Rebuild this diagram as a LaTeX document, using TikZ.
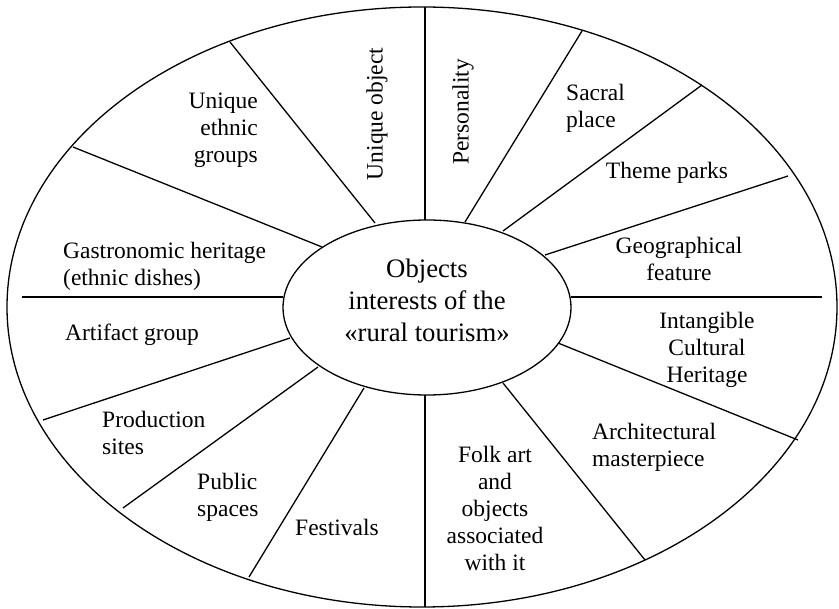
\documentclass[tikz,border=0pt]{standalone}
\usepackage{fontspec}
\setmainfont{Liberation Serif}
\usetikzlibrary{shapes.geometric}
\begin{document}
\begin{tikzpicture}[x=1pt,y=-1pt,
  lbl/.style={font=\fontsize{23.5}{27}\selectfont, inner sep=0pt},
  spoke/.style={line width=1.3pt},
  ring/.style={draw, ellipse, line width=1.3pt, inner sep=0pt}]
\useasboundingbox (0,0) rectangle (839,609);
% outer and inner ellipses
\node[ring, minimum width=830pt, minimum height=600pt] (rim) at (422,307) {};
\node[ring, minimum width=288pt, minimum height=175pt] (core) at (427,307.5) {};
\node[font=\fontsize{26.7}{32}\selectfont, align=center, inner sep=0pt] (coretext) at (427,300)
  {Objects\\interests of the\\«rural tourism»};
% spoke end points: inner (i) and outer (o)
\coordinate (iT) at (425,220);   \coordinate (oT) at (425,7);
\coordinate (iB) at (425,395);   \coordinate (oB) at (425,607);
\coordinate (iL) at (283,297);   \coordinate (oL) at (22,297);
\coordinate (iR) at (571,297);   \coordinate (oR) at (822,297);
\coordinate (i1) at (375,223);   \coordinate (o1) at (230,42);
\coordinate (i2) at (322,247);   \coordinate (o2) at (73,147);
\coordinate (i3) at (465,222);   \coordinate (o3) at (582,31);
\coordinate (i4) at (503,231);   \coordinate (o4) at (702,85);
\coordinate (i5) at (545,255);   \coordinate (o5) at (788,176);
\coordinate (i6) at (290,338);   \coordinate (o6) at (43,420);
\coordinate (i7) at (318,367);   \coordinate (o7) at (123,508);
\coordinate (i8) at (364,388);   \coordinate (o8) at (249,577);
\coordinate (i9) at (558,343);   \coordinate (o9) at (798,440);
\coordinate (i10) at (503,383);  \coordinate (o10) at (645,560);
\foreach \k in {T,B,L,R,1,2,3,4,5,6,7,8,9,10}
  \draw[spoke] (i\k) -- (o\k);
% labels
\node[lbl, anchor=east, align=right] (ueg) at (258,130) {Unique\\ethnic\\groups};
\node[lbl, rotate=90] (uob) at (377,114) {Unique object};
\node[lbl, rotate=90] (per) at (463,112) {Personality};
\node[lbl, anchor=west, align=left] (sac) at (566,108) {Sacral\\place};
\node[lbl] (thp) at (667,173) {Theme parks};
\node[lbl, align=center] (geo) at (679,259) {Geographical\\feature};
\node[lbl, anchor=west, align=left] (gas) at (63,266) {Gastronomic heritage\\(ethnic dishes)};
\node[lbl, anchor=west] (art) at (65,335) {Artifact group};
\node[lbl, anchor=west, align=left] (pro) at (102,433) {Production\\sites};
\node[lbl, anchor=west, align=left] (pub) at (197,497) {Public\\spaces};
\node[lbl, anchor=west] (fes) at (295,527) {Festivals};
\node[lbl, align=center] (ich) at (707,350) {Intangible\\Cultural\\Heritage};
\node[lbl, anchor=west, align=left] (arc) at (592,447) {Architectural\\masterpiece};
\node[lbl, align=center] (folk) at (495,508) {Folk art\\and\\objects\\associated\\with it};
\end{tikzpicture}
\end{document}
